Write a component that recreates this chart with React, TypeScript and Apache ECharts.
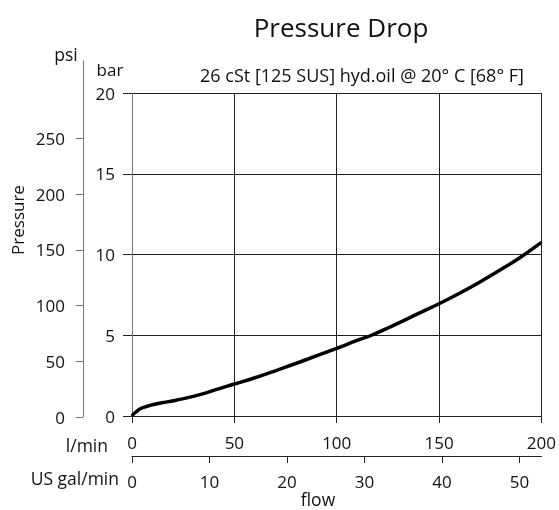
import React, { useEffect, useRef } from "react";
import * as echarts from "echarts";

// flow in l/min, pressure drop in bar
const flowLpm = [0, 1, 2.2, 3.8, 6.9, 10, 17.9, 25.8, 33.6, 41.5, 50, 60, 70, 80, 90, 100, 110, 117, 125, 140, 150, 160, 170, 180, 190, 200];
const pressureBar = [0, 0.15, 0.27, 0.43, 0.58, 0.7, 0.89, 1.09, 1.34, 1.65, 1.98, 2.37, 2.8, 3.25, 3.72, 4.19, 4.68, 5.0, 5.45, 6.35, 6.95, 7.6, 8.3, 9.05, 9.85, 10.75];

const barTicks = [0, 5, 10, 15, 20];
const psiTicks = [0, 50, 100, 150, 200, 250];
const lpmTicks = [0, 50, 100, 150, 200];
const galTicks = [0, 10, 20, 30, 40, 50];

const PSI_PER_BAR = 14.5038;
const L_PER_GAL = 3.78541;

const FONT = "'Open Sans', sans-serif";
const TXT = "#111";
const AXIS_GRAY = "#777";
const GRID_DARK = "#222";
const TICK_FS = 17;
const UNIT_FS = 17.5;

export default function App() {
  const ref = useRef<HTMLDivElement>(null);
  useEffect(() => {
    if (!ref.current) return;
    const chart = echarts.init(ref.current, null, { renderer: "svg" });
    const gridTop = 93;
    const gridBottom = 94;
    const gridH = 510 - gridTop - gridBottom;
    const psiTop = 61;
    const psiBottom = 93;
    const psiH = 510 - psiTop - psiBottom;
    const psiMax = barTicks[barTicks.length - 1] * PSI_PER_BAR * (psiH / gridH);
    const galMax = lpmTicks[lpmTicks.length - 1] / L_PER_GAL;

    chart.setOption({
      animation: false,
      textStyle: { fontFamily: FONT, color: TXT },
      grid: [
        { left: 132, right: 3, top: gridTop, bottom: gridBottom, containLabel: false },
        { left: 83, right: 3, top: psiTop, bottom: psiBottom, containLabel: false },
      ],
      xAxis: [
        {
          type: "value",
          gridIndex: 0,
          min: lpmTicks[0],
          max: lpmTicks[lpmTicks.length - 1],
          interval: 50,
          position: "bottom",
          axisLine: { show: true, onZero: false, lineStyle: { color: GRID_DARK, width: 1 } },
          axisTick: { show: true, length: 7, lineStyle: { color: GRID_DARK } },
          axisLabel: { fontSize: TICK_FS, color: TXT, margin: 18, fontFamily: FONT, showMaxLabel: true },
          splitLine: { show: true, lineStyle: { color: GRID_DARK, width: 1 } },
        },
        {
          type: "value",
          gridIndex: 0,
          min: 0,
          max: galMax,
          position: "bottom",
          offset: 40,
          axisLine: { show: true, onZero: false, lineStyle: { color: GRID_DARK, width: 1 } },
          axisTick: { show: true, length: 7, customValues: galTicks, lineStyle: { color: GRID_DARK } },
          axisLabel: {
            fontSize: TICK_FS,
            color: TXT,
            margin: 17,
            fontFamily: FONT,
            customValues: galTicks,
            formatter: (v: number) => (galTicks.includes(v) ? String(v) : ""),
          },
          splitLine: { show: false },
        },
        {
          type: "value",
          gridIndex: 1,
          min: 0,
          max: 1,
          show: false,
        },
      ],
      yAxis: [
        {
          type: "value",
          gridIndex: 0,
          min: barTicks[0],
          max: barTicks[barTicks.length - 1],
          interval: 5,
          axisLine: { show: true, onZero: false, lineStyle: { color: AXIS_GRAY, width: 1 } },
          axisTick: { show: true, length: 9, lineStyle: { color: GRID_DARK } },
          axisLabel: { fontSize: TICK_FS, color: TXT, margin: 17, fontFamily: FONT },
          splitLine: { show: true, lineStyle: { color: GRID_DARK, width: 1 } },
        },
        {
          type: "value",
          gridIndex: 1,
          min: 0,
          max: psiMax,
          axisLine: { show: true, onZero: false, lineStyle: { color: AXIS_GRAY, width: 1 } },
          axisTick: { show: true, length: 7, customValues: psiTicks, lineStyle: { color: AXIS_GRAY } },
          axisLabel: {
            fontSize: TICK_FS,
            color: TXT,
            margin: 18,
            fontFamily: FONT,
            customValues: psiTicks,
            formatter: (v: number) => (psiTicks.includes(v) ? String(v) : ""),
          },
          splitLine: { show: false },
        },
      ],
      series: [
        {
          type: "line",
          xAxisIndex: 0,
          yAxisIndex: 0,
          data: flowLpm.map((f, i) => [f, pressureBar[i]]),
          smooth: 0.4,
          showSymbol: false,
          lineStyle: { color: "#000", width: 3.5 },
          clip: false,
        },
      ],
      graphic: [
        { type: "text", x: 341, y: 27, style: { text: "Pressure Drop", fontSize: 26, fontFamily: FONT, fill: TXT, align: "center", verticalAlign: "middle" } },
        { type: "text", x: 362, y: 75, style: { text: "26 cSt [125 SUS] hyd.oil @ 20° C [68° F]", fontSize: 18, fontFamily: FONT, fill: TXT, align: "center", verticalAlign: "middle" } },
        { type: "text", x: 66, y: 54, style: { text: "psi", fontSize: UNIT_FS, fontFamily: FONT, fill: TXT, align: "center", verticalAlign: "middle" } },
        { type: "text", x: 110, y: 69, style: { text: "bar", fontSize: 17, fontFamily: FONT, fill: TXT, align: "center", verticalAlign: "middle" } },
        { type: "text", x: 17, y: 220, rotation: Math.PI / 2, style: { text: "Pressure", fontSize: 17, fontFamily: FONT, fill: TXT, align: "center", verticalAlign: "middle" } },
        { type: "text", x: 108, y: 445, style: { text: "l/min", fontSize: UNIT_FS, fontFamily: FONT, fill: TXT, align: "right", verticalAlign: "middle" } },
        { type: "text", x: 119, y: 478, style: { text: "US gal/min", fontSize: UNIT_FS, fontFamily: FONT, fill: TXT, align: "right", verticalAlign: "middle" } },
        { type: "text", x: 318, y: 499, style: { text: "flow", fontSize: UNIT_FS, fontFamily: FONT, fill: TXT, align: "center", verticalAlign: "middle" } },
      ],
    });
    return () => chart.dispose();
  }, []);
  return <div ref={ref} style={{ width: 559, height: 510, position: "fixed", left: 0, top: 0 }} />;
}
